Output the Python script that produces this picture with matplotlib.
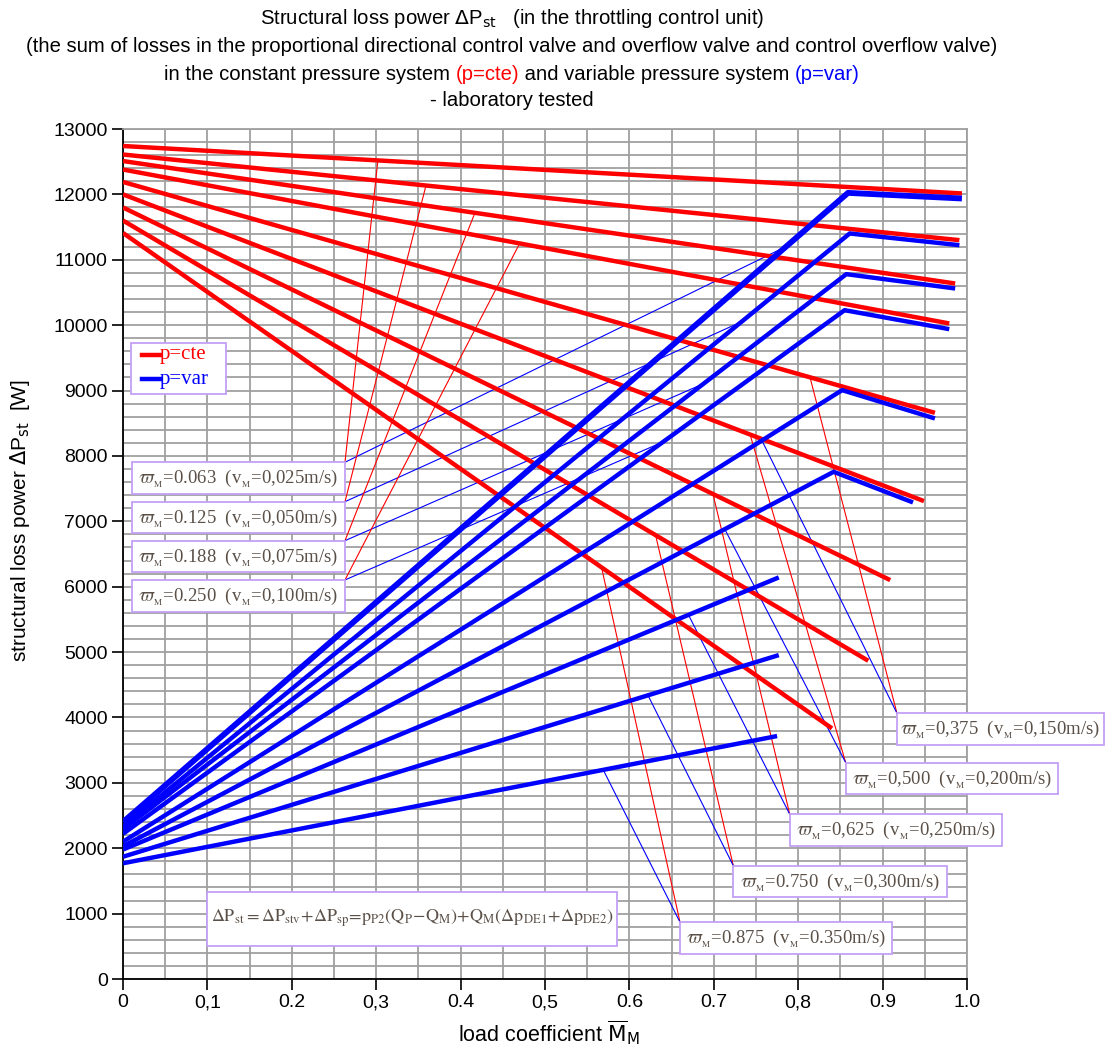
import numpy as np
import matplotlib.pyplot as plt
from matplotlib.patches import Rectangle

# p=cte (red): straight lines from x=0 to an end point
red_y0 = [12740, 12610, 12510, 12380, 12190, 12000, 11800, 11600, 11410]
red_x1 = [0.994, 0.991, 0.986, 0.979, 0.962, 0.949, 0.909, 0.883, 0.840]
red_y1 = [12014, 11300, 10637, 10026, 8659, 7309, 6101, 4867, 3833]

# p=var (blue): start at x=0, kink, then end (nan = no segment after the kink)
blue_y0 = [2400, 2330, 2290, 2220, 2100, 2030, 1980, 1870, 1770]
blue_xk = [0.859, 0.861, 0.857, 0.855, 0.852, 0.842, 0.777, 0.777, 0.775]
blue_yk = [12023, 11402, 10780, 10229, 9006, 7757, 6142, 4954, 3716]
blue_x1 = [0.994, 0.991, 0.986, 0.979, 0.962, 0.936, np.nan, np.nan, np.nan]
blue_y1 = [11937, 11223, 10561, 9939, 8573, 7289, np.nan, np.nan, np.nan]

omega = ['0.063', '0.125', '0.188', '0.250', '0,375', '0,500', '0,625', '0.750', '0.875']
vel = ['0,025', '0,050', '0,075', '0,100', '0,150', '0,200', '0,250', '0,300', '0.350']

# where the thin leader lines touch the curves
red_lead_x = [0.302, 0.359, 0.417, 0.470, 0.814, 0.743, 0.699, 0.631, 0.567]
blue_lead_x = [0.786, 0.733, 0.688, 0.640, 0.757, 0.713, 0.670, 0.622, 0.569]

xtick_lab = ['0', '0,1', '0.2', '0,3', '0.4', '0,5', '0.6', '0.7', '0,8', '0.9', '1.0']

# label boxes (data coords): left edge, top, width ; leader starts at a top corner
box_left = [0.0103, 0.0103, 0.0103, 0.0103, 0.917, 0.8563, 0.790, 0.7231, 0.660]
box_top = [7903, 7300, 6704, 6103, 4064, 3308, 2519, 1733, 867]
box_w = [0.2527, 0.2527, 0.2527, 0.2527, 0.245, 0.2515, 0.2517, 0.2533, 0.2515]
box_h = 483

RED = '#ff0000'
BLUE = '#0000ff'
EDGE = '#c4a0f4'
TXT = '#5a5048'
GRID = '#a0a0a0'

plt.rcParams['font.family'] = ['Liberation Sans', 'DejaVu Sans']
fig = plt.figure(figsize=(11.08, 10.52), dpi=100)
ax = fig.add_axes([123/1108, 73/1052, 844/1108, 850/1052])

ax.set_xlim(0, 1)
ax.set_ylim(0, 13000)
ax.set_xticks(np.arange(0, 1.001, 0.1))
ax.set_xticks(np.arange(0, 1.001, 0.05), minor=True)
ax.set_yticks(np.arange(0, 13001, 1000))
ax.set_yticks(np.arange(0, 13001, 200), minor=True)
ax.set_xticklabels(xtick_lab)
ax.grid(which='both', color=GRID, lw=1.3, zorder=0)
ax.set_axisbelow(True)
ax.tick_params(which='minor', length=0)
ax.tick_params(which='major', direction='out', length=8, width=1.2, labelsize=14, pad=3)
for s in ['top', 'right']:
    ax.spines[s].set_color(GRID)
    ax.spines[s].set_linewidth(1.3)
for s in ['left', 'bottom']:
    ax.spines[s].set_linewidth(1.3)

ax.set_xlabel(r'load coefficient $\overline{\mathrm{M}}_{\mathrm{M}}$', fontsize=15.5,
              math_fontfamily='dejavusans')
ax.xaxis.set_label_coords(0.505, -0.046)
ax.set_ylabel(r'structural loss power $\Delta$P$_{\mathrm{st}}$  [W]', fontsize=15,
              math_fontfamily='dejavusans')
ax.yaxis.set_label_coords(-0.108, 0.539)

# curves
red_x, red_y, blue_x, blue_y = [], [], [], []
for i in range(9):
    rx = [0, red_x1[i]]
    ry = [red_y0[i], red_y1[i]]
    bx = [0, blue_xk[i], blue_x1[i]]
    by = [blue_y0[i], blue_yk[i], blue_y1[i]]
    red_x.append(rx); red_y.append(ry)
    blue_x.append(bx); blue_y.append(by)
    ax.plot(rx, ry, color=RED, lw=3.2, solid_capstyle='butt', zorder=4)
for i in range(9):
    ax.plot(blue_x[i], blue_y[i], color=BLUE, lw=4.2 if i == 0 else 3.2,
            solid_capstyle='butt', zorder=5)

# label boxes and leaders
for i in range(9):
    x0, top, w = box_left[i], box_top[i], box_w[i]
    ax.add_patch(Rectangle((x0, top - box_h), w, box_h, fc='white', ec=EDGE,
                           lw=1.3, clip_on=False, zorder=7))
    ax.text(x0 + w/2, top - box_h/2 - 20,
            r'$\varpi_{_\mathrm{M}}$=' + omega[i] + r'  (v$_{_\mathrm{M}}$=' + vel[i] + 'm/s)',
            ha='center', va='center', fontsize=13.5, color=TXT,
            family=['Liberation Serif', 'DejaVu Serif'], math_fontfamily='stix',
            clip_on=False, zorder=8)
    cx = x0 + w if i < 4 else x0
    bxl = [v for v in blue_x[i] if not np.isnan(v)]
    byl = [v for v in blue_y[i] if not np.isnan(v)]
    ry_l = np.interp(red_lead_x[i], red_x[i], red_y[i])
    by_l = np.interp(blue_lead_x[i], bxl, byl)
    ax.plot([cx, red_lead_x[i]], [top, ry_l], color=RED, lw=0.8, zorder=3, clip_on=False)
    ax.plot([cx, blue_lead_x[i]], [top, by_l], color=BLUE, lw=0.8, zorder=3, clip_on=False)

# legend box
ax.add_patch(Rectangle((0.0095, 8943), 0.1125, 790, fc='white', ec=EDGE, lw=1.3, zorder=7))
ax.plot([0.0222, 0.0438], [9544, 9544], color=RED, lw=3.2, zorder=8)
ax.plot([0.0222, 0.0438], [9172, 9172], color=BLUE, lw=3.2, zorder=8)
ax.text(0.0438, 9544, 'p=cte', color=RED, fontsize=15, va='center', ha='left',
        family='Liberation Serif', zorder=8)
ax.text(0.0438, 9172, 'p=var', color=BLUE, fontsize=15, va='center', ha='left',
        family='Liberation Serif', zorder=8)

# formula box
ax.add_patch(Rectangle((0.0997, 505), 0.4856, 830, fc='white', ec=EDGE, lw=1.3, zorder=7))
ax.text(0.0997 + 0.4856/2, 930,
        r'$\Delta\mathrm{P_{st}=\Delta P_{stv}\!+\!\Delta P_{sp}\!=\!p_{P2}(Q_P\!-\!Q_M)\!+\!Q_M(\Delta p_{DE1}\!+\!\Delta p_{DE2})}$',
        ha='center', va='center', fontsize=13, color=TXT, math_fontfamily='stix', zorder=8)

# title
TFS = 14.6
cx_t = 512/1108
fig.text(cx_t, 1 - 18/1052, r'Structural loss power $\Delta$P$_{\mathrm{st}}$   (in the throttling control unit)',
         ha='center', va='center', fontsize=TFS, math_fontfamily='dejavusans')
fig.text(cx_t, 1 - 46/1052,
         '(the sum of losses in the proportional directional control valve and overflow valve and control overflow valve)',
         ha='center', va='center', fontsize=TFS)
parts = [('in the constant pressure system ', 'black'), ('(p=cte)', RED),
         (' and variable pressure system ', 'black'), ('(p=var)', BLUE)]
rend = fig.canvas.get_renderer()
texts = [fig.text(0, 1 - 74/1052, s, color=c, ha='left', va='center', fontsize=TFS) for s, c in parts]
widths = [t.get_window_extent(rend).width for t in texts]
xpos = 512 - sum(widths)/2
for t, wd in zip(texts, widths):
    t.set_x(xpos/1108)
    xpos += wd
fig.text(cx_t, 1 - 101/1052, '- laboratory tested', ha='center', va='center', fontsize=TFS)

fig.savefig('out.png', dpi=100)
